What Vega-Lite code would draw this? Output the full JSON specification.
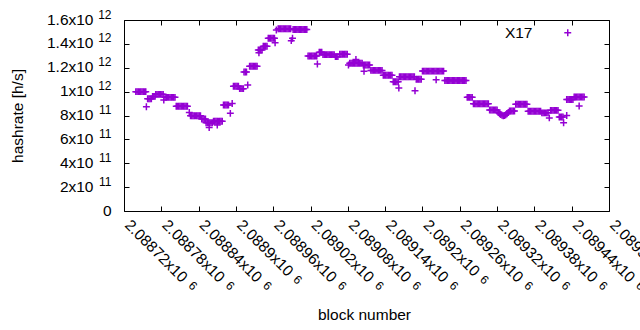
{
"$schema": "https://vega.github.io/schema/vega-lite/v6.json",
"width": 485, "height": 191,
"autosize": "none",
"padding": {"left": 124, "top": 20, "right": 31, "bottom": 119},
"background": "white",
"config": {
  "view": {"stroke": "#000", "strokeWidth": 1},
  "font": "Liberation Sans",
  "axis": {"domain": false, "grid": false, "tickColor": "#000", "tickWidth": 1, "labelColor": "#000", "labelFont": "Liberation Sans", "titleFont": "Liberation Sans", "titleColor": "#000", "titleFontWeight": "normal", "labelFontSize": 15.5, "titleFontSize": 15.5, "labelOverlap": false, "labelBound": false, "labelFlush": false}
},
"data": {"values": [
{"b":2088739,"h":1e12},{"b":2088741,"h":1e12},{"b":2088743,"h":1e12},{"b":2088745,"h":1e12},{"b":2088747,"h":1e12},{"b":2088749,"h":1e12},{"b":2088751,"h":1e12},{"b":2088753,"h":1e12},{"b":2088755,"h":1e12},
{"b":2088756,"h":8.74e11},
{"b":2088758,"h":9.4e11},{"b":2088760,"h":9.4e11},{"b":2088762,"h":9.4e11},{"b":2088764,"h":9.4e11},
{"b":2088766,"h":9.6e11},{"b":2088768,"h":9.6e11},{"b":2088770,"h":9.6e11},
{"b":2088771,"h":9.77e11},{"b":2088773,"h":9.77e11},{"b":2088775,"h":9.77e11},{"b":2088777,"h":9.77e11},{"b":2088779,"h":9.77e11},{"b":2088781,"h":9.77e11},{"b":2088783,"h":9.77e11},
{"b":2088784,"h":9.3e11},
{"b":2088786,"h":9.52e11},{"b":2088788,"h":9.52e11},{"b":2088790,"h":9.52e11},{"b":2088792,"h":9.52e11},{"b":2088794,"h":9.52e11},{"b":2088796,"h":9.52e11},{"b":2088798,"h":9.52e11},{"b":2088800,"h":9.52e11},{"b":2088802,"h":9.52e11},
{"b":2088804,"h":8.78e11},{"b":2088806,"h":8.78e11},{"b":2088808,"h":8.78e11},{"b":2088810,"h":8.78e11},{"b":2088812,"h":8.78e11},{"b":2088814,"h":8.78e11},{"b":2088816,"h":8.78e11},{"b":2088818,"h":8.78e11},{"b":2088820,"h":8.78e11},{"b":2088822,"h":8.78e11},
{"b":2088825,"h":8.25e11},
{"b":2088827,"h":7.98e11},{"b":2088829,"h":7.98e11},{"b":2088831,"h":7.98e11},{"b":2088833,"h":7.98e11},{"b":2088835,"h":7.98e11},{"b":2088837,"h":7.98e11},{"b":2088839,"h":7.98e11},{"b":2088841,"h":7.98e11},{"b":2088843,"h":7.98e11},
{"b":2088845,"h":7.7e11},{"b":2088847,"h":7.7e11},{"b":2088849,"h":7.7e11},{"b":2088851,"h":7.7e11},
{"b":2088852,"h":7.4e11},{"b":2088854,"h":7.4e11},{"b":2088856,"h":7.4e11},{"b":2088858,"h":7.4e11},{"b":2088860,"h":7.4e11},{"b":2088862,"h":7.4e11},
{"b":2088857,"h":7.0e11},
{"b":2088864,"h":7.52e11},{"b":2088866,"h":7.52e11},{"b":2088868,"h":7.52e11},{"b":2088870,"h":7.52e11},{"b":2088872,"h":7.52e11},{"b":2088874,"h":7.52e11},{"b":2088876,"h":7.52e11},{"b":2088878,"h":7.52e11},
{"b":2088870,"h":7.2e11},
{"b":2088880,"h":8.88e11},{"b":2088882,"h":8.88e11},{"b":2088884,"h":8.88e11},{"b":2088886,"h":8.88e11},{"b":2088888,"h":8.88e11},
{"b":2088891,"h":8.18e11},
{"b":2088894,"h":9.0e11},
{"b":2088896,"h":1.045e12},{"b":2088898,"h":1.045e12},{"b":2088900,"h":1.045e12},{"b":2088902,"h":1.045e12},{"b":2088904,"h":1.045e12},
{"b":2088906,"h":1.025e12},{"b":2088908,"h":1.025e12},{"b":2088910,"h":1.025e12},{"b":2088912,"h":1.025e12},
{"b":2088913,"h":1.165e12},{"b":2088915,"h":1.165e12},{"b":2088917,"h":1.165e12},
{"b":2088919,"h":1.055e12},
{"b":2088922,"h":1.212e12},{"b":2088924,"h":1.212e12},{"b":2088926,"h":1.212e12},{"b":2088928,"h":1.212e12},{"b":2088930,"h":1.212e12},{"b":2088932,"h":1.212e12},{"b":2088934,"h":1.212e12},
{"b":2088936,"h":1.349e12},{"b":2088938,"h":1.349e12},{"b":2088940,"h":1.349e12},{"b":2088942,"h":1.349e12},
{"b":2088937,"h":1.325e12},
{"b":2088944,"h":1.38e12},{"b":2088946,"h":1.38e12},{"b":2088948,"h":1.38e12},{"b":2088950,"h":1.38e12},
{"b":2088952,"h":1.447e12},{"b":2088954,"h":1.447e12},{"b":2088956,"h":1.447e12},{"b":2088958,"h":1.447e12},{"b":2088960,"h":1.447e12},{"b":2088962,"h":1.447e12},
{"b":2088963,"h":1.41e12},
{"b":2088965,"h":1.516e12},
{"b":2088968,"h":1.527e12},{"b":2088970,"h":1.527e12},{"b":2088972,"h":1.527e12},{"b":2088974,"h":1.527e12},{"b":2088976,"h":1.527e12},{"b":2088978,"h":1.527e12},{"b":2088980,"h":1.527e12},{"b":2088982,"h":1.527e12},{"b":2088984,"h":1.527e12},{"b":2088986,"h":1.527e12},{"b":2088988,"h":1.527e12},
{"b":2088989,"h":1.427e12},{"b":2088991,"h":1.447e12},
{"b":2088992,"h":1.52e12},{"b":2088994,"h":1.52e12},{"b":2088996,"h":1.52e12},{"b":2088998,"h":1.52e12},{"b":2089000,"h":1.52e12},{"b":2089002,"h":1.52e12},{"b":2089004,"h":1.52e12},{"b":2089006,"h":1.52e12},{"b":2089008,"h":1.52e12},{"b":2089010,"h":1.52e12},{"b":2089012,"h":1.52e12},{"b":2089014,"h":1.52e12},
{"b":2089016,"h":1.298e12},{"b":2089018,"h":1.298e12},{"b":2089020,"h":1.298e12},{"b":2089022,"h":1.298e12},{"b":2089024,"h":1.298e12},{"b":2089026,"h":1.298e12},{"b":2089028,"h":1.298e12},{"b":2089030,"h":1.298e12},
{"b":2089031,"h":1.231e12},
{"b":2089034,"h":1.33e12},{"b":2089036,"h":1.33e12},{"b":2089038,"h":1.33e12},
{"b":2089040,"h":1.31e12},{"b":2089042,"h":1.31e12},{"b":2089044,"h":1.31e12},{"b":2089046,"h":1.31e12},{"b":2089048,"h":1.31e12},{"b":2089050,"h":1.31e12},{"b":2089052,"h":1.31e12},{"b":2089054,"h":1.31e12},{"b":2089056,"h":1.31e12},{"b":2089058,"h":1.31e12},
{"b":2089060,"h":1.293e12},{"b":2089062,"h":1.293e12},{"b":2089064,"h":1.293e12},
{"b":2089067,"h":1.313e12},{"b":2089069,"h":1.313e12},{"b":2089071,"h":1.313e12},{"b":2089073,"h":1.313e12},{"b":2089075,"h":1.313e12},{"b":2089077,"h":1.313e12},{"b":2089079,"h":1.313e12},
{"b":2089081,"h":1.223e12},
{"b":2089083,"h":1.237e12},{"b":2089085,"h":1.237e12},{"b":2089087,"h":1.237e12},{"b":2089089,"h":1.237e12},{"b":2089091,"h":1.237e12},{"b":2089093,"h":1.237e12},{"b":2089095,"h":1.237e12},{"b":2089097,"h":1.237e12},{"b":2089099,"h":1.237e12},{"b":2089101,"h":1.237e12},{"b":2089103,"h":1.237e12},
{"b":2089093,"h":1.27e12},
{"b":2089105,"h":1.223e12},{"b":2089107,"h":1.223e12},{"b":2089109,"h":1.223e12},{"b":2089111,"h":1.223e12},{"b":2089113,"h":1.223e12},{"b":2089115,"h":1.223e12},
{"b":2089106,"h":1.17e12},
{"b":2089117,"h":1.178e12},{"b":2089119,"h":1.178e12},{"b":2089121,"h":1.178e12},{"b":2089123,"h":1.178e12},{"b":2089125,"h":1.178e12},{"b":2089127,"h":1.178e12},{"b":2089129,"h":1.178e12},{"b":2089131,"h":1.178e12},{"b":2089133,"h":1.178e12},{"b":2089135,"h":1.178e12},
{"b":2089137,"h":1.137e12},{"b":2089139,"h":1.137e12},{"b":2089141,"h":1.137e12},{"b":2089143,"h":1.137e12},{"b":2089145,"h":1.137e12},{"b":2089147,"h":1.137e12},{"b":2089149,"h":1.137e12},{"b":2089151,"h":1.137e12},
{"b":2089153,"h":1.083e12},{"b":2089155,"h":1.083e12},{"b":2089157,"h":1.083e12},{"b":2089159,"h":1.083e12},{"b":2089161,"h":1.083e12},
{"b":2089162,"h":1.03e12},
{"b":2089163,"h":1.125e12},{"b":2089165,"h":1.125e12},{"b":2089167,"h":1.125e12},{"b":2089169,"h":1.125e12},{"b":2089171,"h":1.125e12},{"b":2089173,"h":1.125e12},{"b":2089175,"h":1.125e12},{"b":2089177,"h":1.125e12},{"b":2089179,"h":1.125e12},{"b":2089181,"h":1.125e12},{"b":2089183,"h":1.125e12},{"b":2089185,"h":1.125e12},{"b":2089187,"h":1.125e12},
{"b":2089188,"h":1.008e12},
{"b":2089190,"h":1.103e12},{"b":2089192,"h":1.103e12},{"b":2089194,"h":1.103e12},{"b":2089196,"h":1.103e12},{"b":2089198,"h":1.103e12},
{"b":2089200,"h":1.172e12},{"b":2089202,"h":1.172e12},{"b":2089204,"h":1.172e12},{"b":2089206,"h":1.172e12},{"b":2089208,"h":1.172e12},{"b":2089210,"h":1.172e12},{"b":2089212,"h":1.172e12},{"b":2089214,"h":1.172e12},{"b":2089216,"h":1.172e12},{"b":2089218,"h":1.172e12},{"b":2089220,"h":1.172e12},{"b":2089222,"h":1.172e12},{"b":2089224,"h":1.172e12},{"b":2089226,"h":1.172e12},{"b":2089228,"h":1.172e12},{"b":2089230,"h":1.172e12},{"b":2089232,"h":1.172e12},{"b":2089234,"h":1.172e12},
{"b":2089222,"h":1.1e12},
{"b":2089236,"h":1.093e12},{"b":2089238,"h":1.093e12},{"b":2089240,"h":1.093e12},{"b":2089242,"h":1.093e12},{"b":2089244,"h":1.093e12},{"b":2089246,"h":1.093e12},{"b":2089248,"h":1.093e12},{"b":2089250,"h":1.093e12},{"b":2089252,"h":1.093e12},{"b":2089254,"h":1.093e12},{"b":2089256,"h":1.093e12},{"b":2089258,"h":1.093e12},{"b":2089260,"h":1.093e12},{"b":2089262,"h":1.093e12},{"b":2089264,"h":1.093e12},{"b":2089266,"h":1.093e12},{"b":2089268,"h":1.093e12},{"b":2089270,"h":1.093e12},
{"b":2089272,"h":9.52e11},{"b":2089274,"h":9.52e11},{"b":2089276,"h":9.52e11},{"b":2089278,"h":9.52e11},{"b":2089280,"h":9.52e11},
{"b":2089282,"h":8.99e11},{"b":2089284,"h":8.99e11},{"b":2089286,"h":8.99e11},{"b":2089288,"h":8.99e11},{"b":2089290,"h":8.99e11},{"b":2089292,"h":8.99e11},{"b":2089294,"h":8.99e11},{"b":2089296,"h":8.99e11},{"b":2089298,"h":8.99e11},{"b":2089300,"h":8.99e11},{"b":2089302,"h":8.99e11},{"b":2089304,"h":8.99e11},{"b":2089306,"h":8.99e11},
{"b":2089308,"h":8.46e11},{"b":2089310,"h":8.46e11},{"b":2089312,"h":8.46e11},{"b":2089314,"h":8.46e11},{"b":2089316,"h":8.46e11},{"b":2089318,"h":8.46e11},{"b":2089320,"h":8.46e11},
{"b":2089322,"h":8.25e11},{"b":2089324,"h":8.15e11},{"b":2089326,"h":8.08e11},{"b":2089328,"h":8.02e11},{"b":2089330,"h":7.98e11},{"b":2089332,"h":8.0e11},{"b":2089334,"h":8.06e11},{"b":2089336,"h":8.15e11},{"b":2089338,"h":8.25e11},
{"b":2089340,"h":8.38e11},{"b":2089342,"h":8.38e11},{"b":2089344,"h":8.38e11},{"b":2089346,"h":8.38e11},{"b":2089348,"h":8.38e11},
{"b":2089350,"h":8.94e11},{"b":2089352,"h":8.94e11},{"b":2089354,"h":8.94e11},{"b":2089356,"h":8.94e11},{"b":2089358,"h":8.94e11},{"b":2089360,"h":8.94e11},{"b":2089362,"h":8.94e11},{"b":2089364,"h":8.94e11},{"b":2089366,"h":8.94e11},{"b":2089368,"h":8.94e11},
{"b":2089370,"h":8.36e11},{"b":2089372,"h":8.36e11},{"b":2089374,"h":8.36e11},{"b":2089376,"h":8.36e11},{"b":2089378,"h":8.36e11},{"b":2089380,"h":8.36e11},{"b":2089382,"h":8.36e11},{"b":2089384,"h":8.36e11},{"b":2089386,"h":8.36e11},{"b":2089388,"h":8.36e11},{"b":2089390,"h":8.36e11},
{"b":2089392,"h":8.22e11},{"b":2089394,"h":8.22e11},{"b":2089396,"h":8.22e11},{"b":2089398,"h":8.22e11},{"b":2089400,"h":8.22e11},{"b":2089402,"h":8.22e11},
{"b":2089404,"h":7.8e11},
{"b":2089406,"h":8.43e11},{"b":2089408,"h":8.43e11},{"b":2089410,"h":8.43e11},{"b":2089412,"h":8.43e11},{"b":2089414,"h":8.43e11},{"b":2089416,"h":8.43e11},{"b":2089418,"h":8.43e11},
{"b":2089420,"h":7.88e11},{"b":2089422,"h":7.88e11},{"b":2089424,"h":7.88e11},{"b":2089426,"h":7.88e11},
{"b":2089427,"h":7.4e11},
{"b":2089432,"h":8.0e11},
{"b":2089432,"h":9.34e11},{"b":2089434,"h":9.34e11},{"b":2089436,"h":9.34e11},{"b":2089438,"h":9.34e11},{"b":2089440,"h":9.34e11},{"b":2089442,"h":9.34e11},
{"b":2089444,"h":9.55e11},{"b":2089446,"h":9.55e11},{"b":2089448,"h":9.55e11},{"b":2089450,"h":9.55e11},{"b":2089452,"h":9.55e11},
{"b":2089452,"h":8.8e11},
{"b":2089454,"h":9.55e11},{"b":2089456,"h":9.55e11},{"b":2089458,"h":9.55e11},{"b":2089460,"h":9.55e11}
]},
"layer": [
  {
    "mark": {"type": "point", "shape": "M-1,0H1M0,-1V1", "filled": false, "strokeWidth": 1.5, "size": 48, "opacity": 1},
    "encoding": {
      "x": {"field": "b", "type": "quantitative",
        "scale": {"domain": [2088720, 2089500], "nice": false, "zero": false},
        "axis": {"orient": "bottom", "values": [2088720,2088780,2088840,2088900,2088960,2089020,2089080,2089140,2089200,2089260,2089320,2089380,2089440,2089500],
          "labelExpr": "format(datum.value/1e6, '.5~f') + 'x10'",
          "tickSize": -5, "labelAngle": 45, "labelAlign": "left", "labelBaseline": "middle", "labelPadding": 16, "labelOffset": 3,
          "title": "block number", "titleX": 240, "titleY": 108, "titleBaseline": "alphabetic", "titleAlign": "center"}},
      "y": {"field": "h", "type": "quantitative",
        "scale": {"domain": [0, 1.6e12], "nice": false, "zero": true},
        "axis": {"orient": "left", "values": [0,2e11,4e11,6e11,8e11,1e12,1.2e12,1.4e12,1.6e12],
          "labelExpr": "datum.value == 0 ? '' : round(datum.value/1e11)/(datum.value < 1e12 ? 1 : 10) + 'x10'",
          "tickSize": -5, "labelAlign": "right", "labelBaseline": "middle", "labelPadding": 36, "labelOffset": -1,
          "title": "hashrate [h/s]", "titleX": -107, "titleY": 95.5, "titleAngle": -90, "titleAlign": "center", "titleBaseline": "middle"}},
      "color": {"datum": "X17", "type": "nominal", "scale": {"range": ["#9400d3"]},
        "legend": {"orient": "none", "legendX": 436, "legendY": 5, "title": null, "labelFontSize": 15.5, "labelColor": "#000", "labelFont": "Liberation Sans",
          "labelAlign": "right", "labelOffset": -43, "symbolType": "M-1,0H1M0,-1V1", "symbolStrokeWidth": 1.5, "symbolSize": 48, "padding": 0}}
    }
  },
  {
    "mark": {"type": "point", "opacity": 0},
    "encoding": {
      "x": {"field": "b", "type": "quantitative",
        "axis": {"orient": "bottom", "values": [2088720,2088780,2088840,2088900,2088960,2089020,2089080,2089140,2089200,2089260,2089320,2089380,2089440,2089500],
          "labelExpr": "'6'", "ticks": false, "labelAngle": 45, "labelAlign": "left", "labelBaseline": "middle", "labelFontSize": 12,
          "labelPadding": {"condition": {"test": "datum.value % 100 == 0", "value": 66}, "value": 72},
          "labelOffset": {"condition": {"test": "datum.value % 100 == 0", "value": 59}, "value": 66},
          "title": null}},
      "y": {"field": "h", "type": "quantitative",
        "axis": {"orient": "left", "values": [0,2e11,4e11,6e11,8e11,1e12,1.2e12,1.4e12,1.6e12],
          "labelExpr": "datum.value == 0 ? '0' : (datum.value < 1e12 ? '11' : '12')",
          "ticks": false, "labelAlign": "right", "labelBaseline": "middle",
          "labelFontSize": {"condition": {"test": "datum.value == 0", "value": 15.5}, "value": 12},
          "labelOffset": {"condition": {"test": "datum.value == 0", "value": -1}, "value": -6},
          "labelPadding": 13, "title": null}}
    }
  },
  {
    "mark": {"type": "point", "opacity": 0},
    "encoding": {
      "x": {"field": "b", "type": "quantitative",
        "axis": {"orient": "top", "values": [2088720,2088780,2088840,2088900,2088960,2089020,2089080,2089140,2089200,2089260,2089320,2089380,2089440,2089500],
          "labels": false, "tickSize": -5, "title": null}},
      "y": {"field": "h", "type": "quantitative",
        "axis": {"orient": "right", "values": [0,2e11,4e11,6e11,8e11,1e12,1.2e12,1.4e12,1.6e12],
          "labels": false, "tickSize": -5, "title": null}}
    }
  }
],
"resolve": {"axis": {"x": "independent", "y": "independent"}}
}
